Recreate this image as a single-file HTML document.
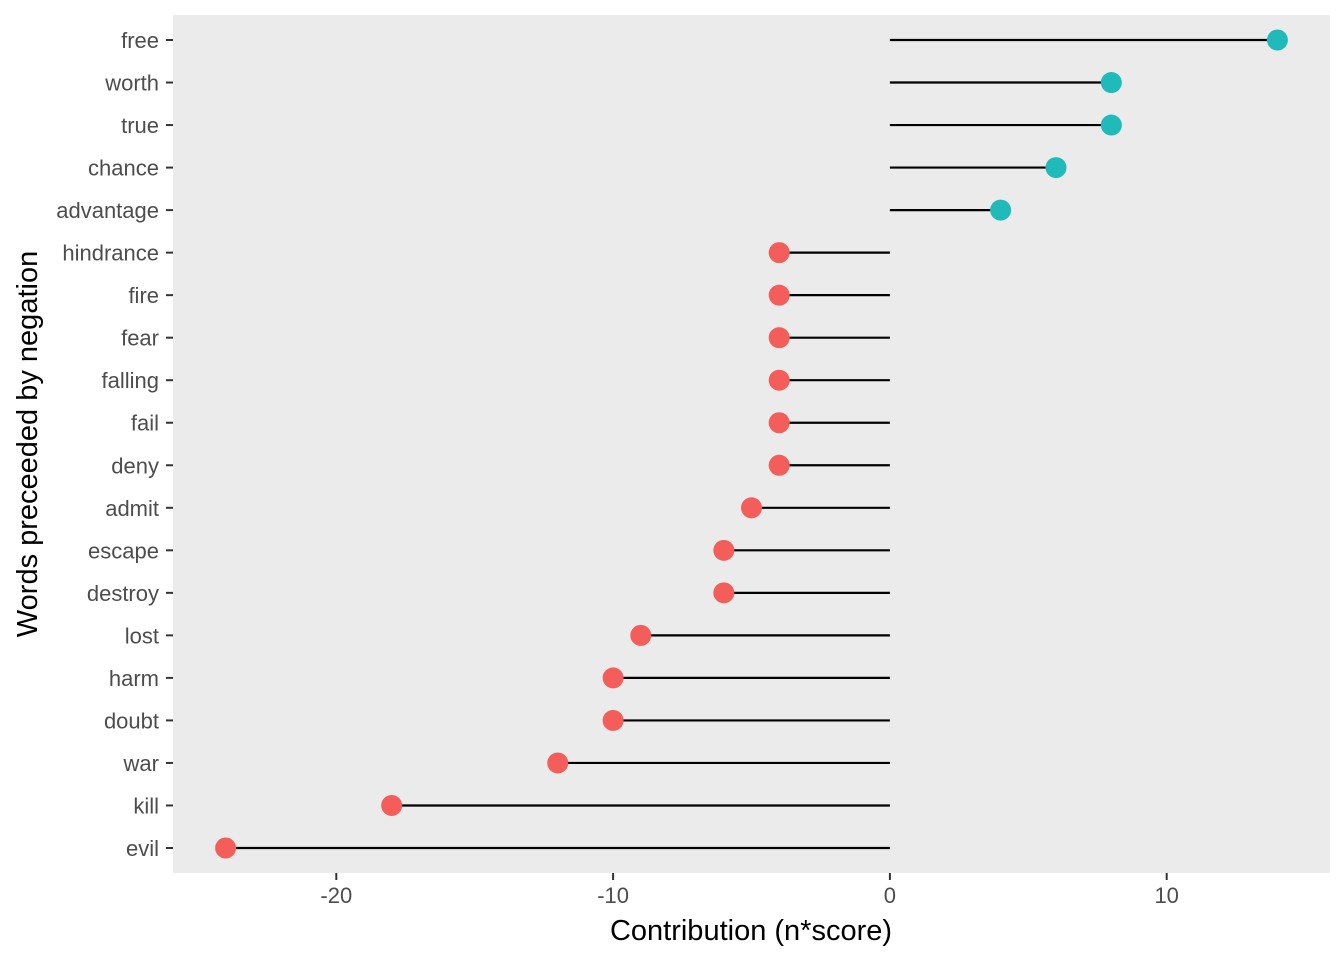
<!DOCTYPE html>
<html><head><meta charset="utf-8">
<style>
html,body{margin:0;padding:0;background:#fff;}
svg{display:block;font-family:"Liberation Sans",Arial,sans-serif;}
</style></head>
<body>
<svg id="chart" width="1344" height="960">
  <rect x="173" y="15" width="1157" height="858" fill="#EBEBEB"/>
  <g id="marks"></g>
  <g id="axes"></g>
  <text x="751" y="940" text-anchor="middle" font-size="29" fill="#000">Contribution (n*score)</text>
  <text transform="translate(37,444) rotate(-90)" text-anchor="middle" font-size="29" fill="#000">Words preceeded by negation</text>
</svg>
<script>
const words = ["free","worth","true","chance","advantage","hindrance","fire","fear","falling","fail","deny","admit","escape","destroy","lost","harm","doubt","war","kill","evil"];
const contributions = [14,8,8,6,4,-4,-4,-4,-4,-4,-4,-5,-6,-6,-9,-10,-10,-12,-18,-24];
const xTicks = [-20,-10,0,10];

const NS = "http://www.w3.org/2000/svg";
const xMin = -25.9, xMax = 15.9, pxL = 173, pxR = 1330;
function xScale(v){ return pxL + (v - xMin) / (xMax - xMin) * (pxR - pxL); }
function yScale(i){ return 40 + i * (848 - 40) / (words.length - 1); }
function mk(tag, attrs){ const e = document.createElementNS(NS, tag); for (const k in attrs) e.setAttribute(k, attrs[k]); return e; }

const marks = document.getElementById("marks");
const axes = document.getElementById("axes");

words.forEach((w, i) => {
  const v = contributions[i], y = yScale(i);
  const line = mk("line", {x1: xScale(0), x2: xScale(v), y1: y, y2: y, stroke: "#000", "stroke-width": 2.2});
  
  
  marks.appendChild(line);
  const c = mk("circle", {cx: xScale(v), cy: y, r: 10.5, fill: v > 0 ? "#1FBAB9" : "#F35E5A"});
  
  
  marks.appendChild(c);
  const t = mk("line", {x1: 166, x2: 173, y1: y, y2: y, stroke: "#333", "stroke-width": 2});
  
  
  axes.appendChild(t);
  const lab = mk("text", {x: 159, y: y + 8, "text-anchor": "end", "font-size": 22, fill: "#4D4D4D"});
  lab.textContent = w;
  
  
  axes.appendChild(lab);
});

xTicks.forEach(v => {
  const x = xScale(v);
  const t = mk("line", {x1: x, x2: x, y1: 873, y2: 880, stroke: "#333", "stroke-width": 2});
  
  
  axes.appendChild(t);
  const lab = mk("text", {x: x, y: 903, "text-anchor": "middle", "font-size": 22, fill: "#4D4D4D"});
  lab.textContent = v;
  
  
  axes.appendChild(lab);
});
</script>
</body></html>
